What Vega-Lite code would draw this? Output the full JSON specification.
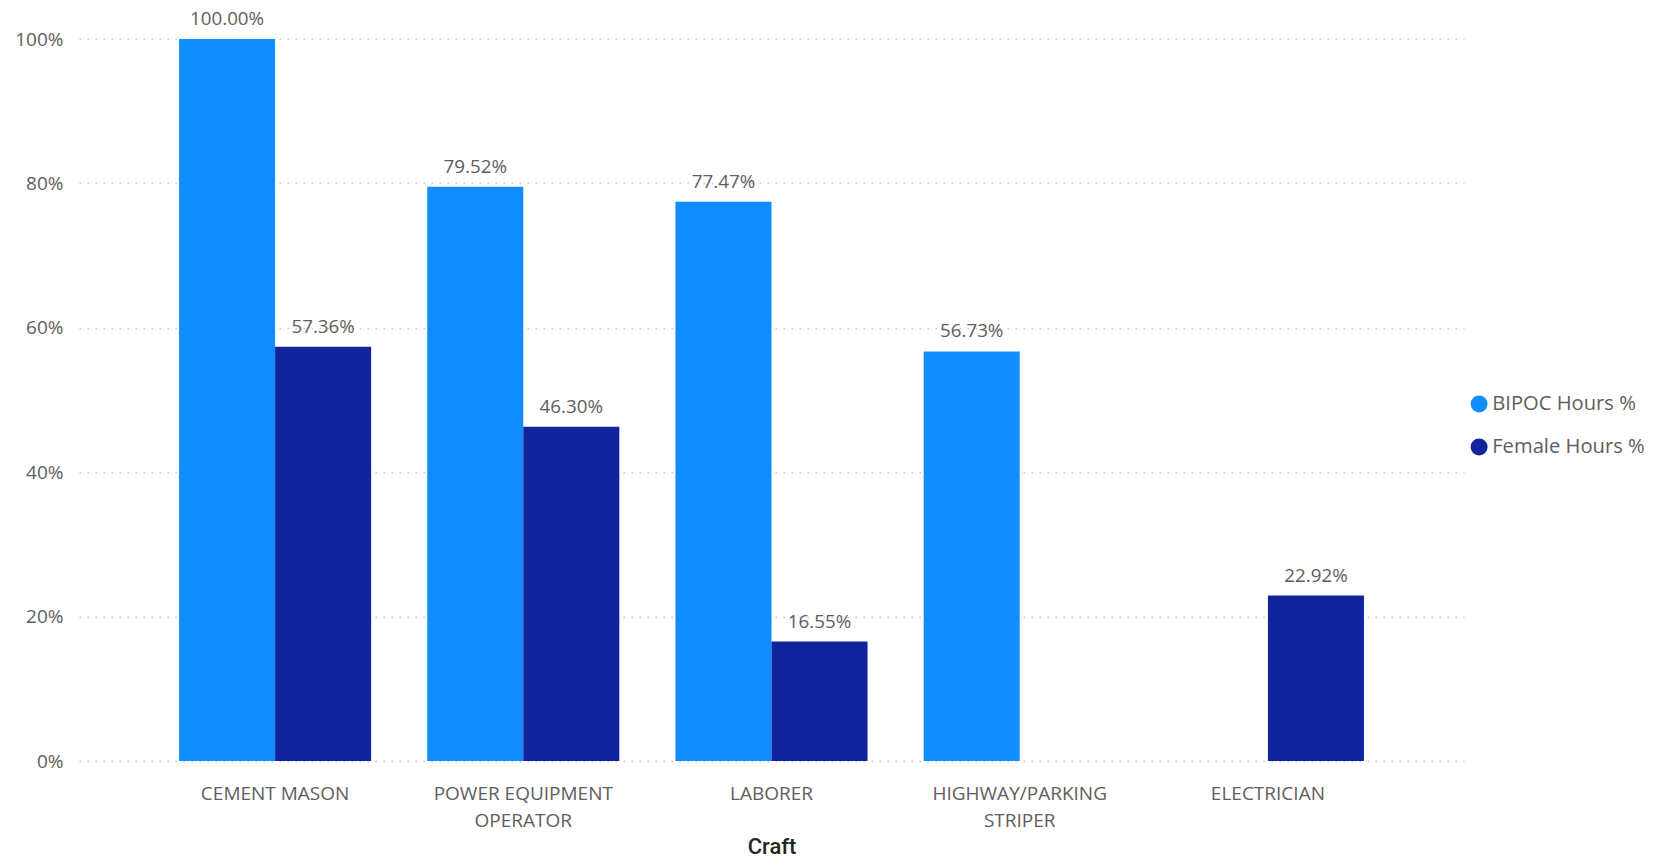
{
  "$schema": "https://vega.github.io/schema/vega-lite/v6.json",
  "width": 1385,
  "height": 722,
  "autosize": {"type": "none"},
  "padding": {"left": 79, "top": 39, "right": 190, "bottom": 99},
  "background": "white",
  "config": {
    "view": {"stroke": null},
    "font": "Open Sans"
  },
  "data": {
    "values": [
      {"craft": "CEMENT MASON", "measure": "BIPOC Hours %", "value": 1.0},
      {"craft": "CEMENT MASON", "measure": "Female Hours %", "value": 0.5736},
      {"craft": "POWER EQUIPMENT OPERATOR", "measure": "BIPOC Hours %", "value": 0.7952},
      {"craft": "POWER EQUIPMENT OPERATOR", "measure": "Female Hours %", "value": 0.463},
      {"craft": "LABORER", "measure": "BIPOC Hours %", "value": 0.7747},
      {"craft": "LABORER", "measure": "Female Hours %", "value": 0.1655},
      {"craft": "HIGHWAY/PARKING STRIPER", "measure": "BIPOC Hours %", "value": 0.5673},
      {"craft": "ELECTRICIAN", "measure": "Female Hours %", "value": 0.2292}
    ]
  },
  "encoding": {
    "x": {
      "field": "craft",
      "type": "nominal",
      "sort": null,
      "scale": {"paddingInner": 0.226, "paddingOuter": 0.403},
      "axis": {
        "title": "Craft",
        "titleFont": "Roboto",
        "titleFontWeight": 500,
        "titleFontSize": 22,
        "titleColor": "#252423",
        "titlePadding": 6,
        "labelAngle": 0,
        "labelFontSize": 19,
        "labelColor": "#605E5C",
        "labelPadding": 23,
        "labelLineHeight": 27,
        "labelBaseline": "top",
        "labelDx": 3,
        "labelExpr": "datum.label == 'POWER EQUIPMENT OPERATOR' ? ['POWER EQUIPMENT', 'OPERATOR'] : datum.label == 'HIGHWAY/PARKING STRIPER' ? ['HIGHWAY/PARKING', 'STRIPER'] : datum.label",
        "domain": false,
        "ticks": false,
        "grid": false
      }
    },
    "xOffset": {
      "field": "measure",
      "type": "nominal",
      "scale": {"domain": ["BIPOC Hours %", "Female Hours %"], "paddingInner": 0, "paddingOuter": 0}
    },
    "y": {
      "field": "value",
      "type": "quantitative",
      "scale": {"domain": [0, 1], "nice": false},
      "axis": {
        "title": null,
        "format": ".0%",
        "values": [0, 0.2, 0.4, 0.6, 0.8, 1.0],
        "labelFontSize": 19,
        "labelColor": "#605E5C",
        "labelPadding": 16,
        "domain": false,
        "ticks": false,
        "grid": true,
        "gridColor": "#C8C6C4",
        "gridDash": [1.5, 6.5],
        "gridWidth": 1.5
      }
    }
  },
  "layer": [
    {
      "mark": {"type": "bar"},
      "encoding": {
        "color": {
          "field": "measure",
          "type": "nominal",
          "scale": {"domain": ["BIPOC Hours %", "Female Hours %"], "range": ["#118DFF", "#12239E"]},
          "legend": {
            "title": null,
            "orient": "none",
            "legendX": 1390,
            "legendY": 355,
            "padding": 0,
            "symbolType": "circle",
            "symbolSize": 289,
            "symbolStrokeWidth": 0,
            "labelFontSize": 20.2,
            "labelColor": "#605E5C",
            "labelOffset": 3,
            "rowPadding": 22
          }
        }
      }
    },
    {
      "mark": {"type": "text", "baseline": "bottom", "dy": -10, "fontSize": 18.8, "color": "#605E5C"},
      "encoding": {
        "text": {"field": "value", "type": "quantitative", "format": ".2%"}
      }
    }
  ]
}
